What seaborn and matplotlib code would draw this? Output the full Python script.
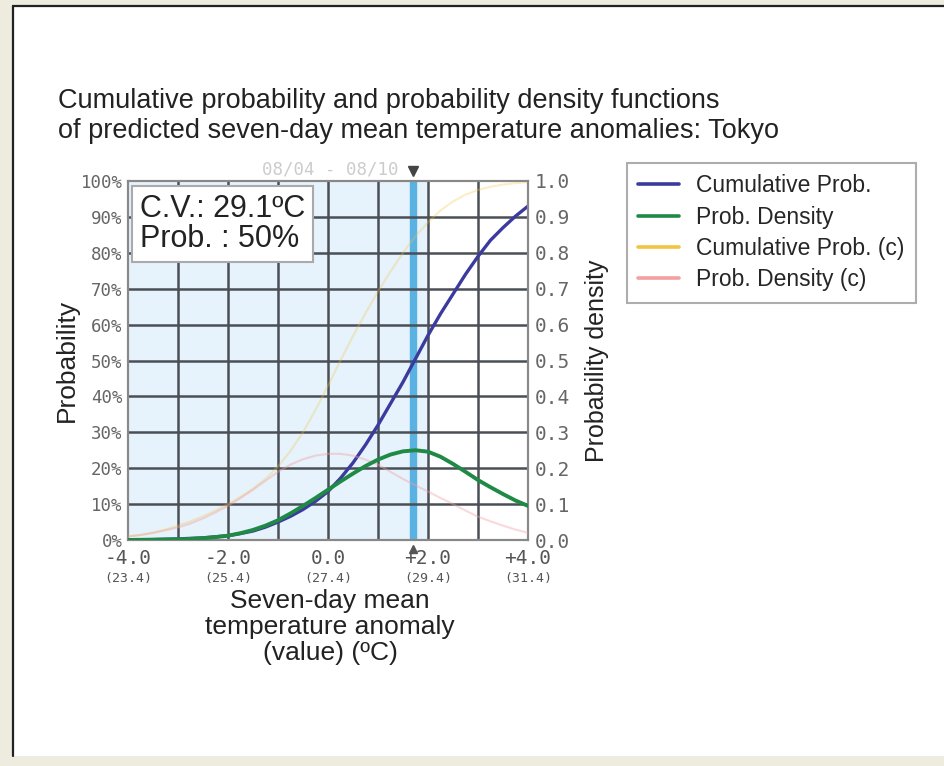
import numpy as np
import pandas as pd
import matplotlib
matplotlib.use("Agg")
import matplotlib.pyplot as plt
from matplotlib.patches import Rectangle
from matplotlib.lines import Line2D
import seaborn as sns

# ---- data ----
anomaly = [-4.0, -3.75, -3.5, -3.25, -3.0, -2.75, -2.5, -2.25, -2.0, -1.75, -1.5, -1.25, -1.0,
           -0.75, -0.5, -0.25, 0.0, 0.25, 0.5, 0.75, 1.0, 1.25, 1.5, 1.75, 2.0, 2.25, 2.5,
           2.75, 3.0, 3.25, 3.5, 3.75, 4.0]
cum_prob = [0.0, 0.05, 0.1, 0.2, 0.3, 0.45, 0.6, 0.9, 1.2, 1.8, 2.5, 3.6, 5.0,
            6.6, 8.5, 10.8, 13.5, 17.2, 21.5, 26.5, 32.0, 38.0, 44.0, 50.5, 57.0, 63.0, 68.5,
            74.0, 79.0, 83.5, 87.0, 90.2, 93.0]
prob_density = [0.0, 0.0005, 0.001, 0.0015, 0.002, 0.003, 0.005, 0.008, 0.012, 0.019, 0.028, 0.04, 0.055,
                0.074, 0.095, 0.117, 0.14, 0.163, 0.185, 0.206, 0.224, 0.238, 0.247, 0.25, 0.246, 0.232, 0.212,
                0.19, 0.167, 0.147, 0.128, 0.11, 0.095]
cum_prob_c = [1.0, 1.4, 2.0, 2.9, 4.0, 5.2, 6.6, 8.2, 10.0, 12.0, 14.3, 17.0, 20.5,
              24.8, 30.0, 36.2, 43.0, 50.0, 56.8, 63.2, 69.2, 74.8, 80.0, 84.6, 88.5, 91.8, 94.3,
              96.2, 97.5, 98.4, 99.0, 99.4, 99.7]
prob_density_c = [0.01, 0.014, 0.02, 0.027, 0.035, 0.046, 0.06, 0.077, 0.095, 0.117, 0.14, 0.165, 0.19,
                  0.21, 0.225, 0.235, 0.24, 0.24, 0.235, 0.224, 0.21, 0.19, 0.17, 0.152, 0.135, 0.117, 0.10,
                  0.082, 0.065, 0.052, 0.04, 0.029, 0.02]

x_ticks = [-4.0, -2.0, 0.0, 2.0, 4.0]
x_tick_labels = ["-4.0\n(23.4)", "-2.0\n(25.4)", "0.0\n(27.4)", "+2.0\n(29.4)", "+4.0\n(31.4)"]
left_ticks = list(range(0, 101, 10))
left_tick_labels = [f"{v}%" for v in left_ticks]
right_ticks = [round(v * 0.1, 1) for v in range(11)]
right_tick_labels = [f"{v:.1f}" for v in right_ticks]
cv_anomaly = 1.7
shade_end = 2.0
series_names = ["Cumulative Prob.", "Prob. Density", "Cumulative Prob. (c)", "Prob. Density (c)"]
series_colors = ["#3b3b9e", "#1f8a45", "#f2c443", "#f2a0a0"]

df = pd.DataFrame({"anomaly": anomaly, "cum": cum_prob, "dens": prob_density,
                   "cum_c": cum_prob_c, "dens_c": prob_density_c})

sns.set_theme(style="white")
plt.rcParams['font.family'] = ['Liberation Sans', 'DejaVu Sans']

W, H = 945, 766
fig = plt.figure(figsize=(W / 100, H / 100), dpi=100)
fig.patch.set_facecolor("#eeebdf")

def fx(px):
    return px / W

def fy(py):
    return 1 - py / H

# white panel with dark left/top border
fig.add_artist(Rectangle((fx(13), fy(756)), 1.2, fy(6) - fy(756), transform=fig.transFigure,
                         facecolor="white", edgecolor="none", zorder=-10))
fig.add_artist(Line2D([fx(13), fx(13)], [fy(6), fy(756)], color="#222222", lw=1.6,
                      transform=fig.transFigure, zorder=-9))
fig.add_artist(Line2D([fx(13), 1.0], [fy(6), fy(6)], color="#222222", lw=1.6,
                      transform=fig.transFigure, zorder=-9))

left, right, top, bottom = 128, 528, 181, 540
ax = fig.add_axes([fx(left), fy(bottom), fx(right) - fx(left), fy(top) - fy(bottom)])
ax.set_facecolor("white")
ax.set_xlim(-4, 4)
ax.set_ylim(0, 100)

# shaded forecast region and C.V. band
ax.axvspan(-4, shade_end, color="#e6f2fc", zorder=0)
ax.axvspan(cv_anomaly - 0.06, cv_anomaly + 0.06, color="#5ab2e2", zorder=1)

# grid
for gx in np.arange(-3, 4, 1.0):
    ax.axvline(gx, color="#4a4f55", lw=1.8, zorder=2)
for gy in range(10, 100, 10):
    ax.axhline(gy, color="#4a4f55", lw=1.8, zorder=2)

ax2 = ax.twinx()
ax2.set_ylim(0, 1.0)

sns.lineplot(data=df, x="anomaly", y="cum_c", ax=ax, color=series_colors[2], lw=1.5, alpha=0.3, zorder=3)
sns.lineplot(data=df, x="anomaly", y="dens_c", ax=ax2, color=series_colors[3], lw=1.5, alpha=0.4, zorder=3)
sns.lineplot(data=df, x="anomaly", y="cum", ax=ax, color=series_colors[0], lw=2.4, zorder=4)
sns.lineplot(data=df, x="anomaly", y="dens", ax=ax2, color=series_colors[1], lw=2.8, zorder=4)
ax2.patch.set_visible(False)

for a in (ax, ax2):
    for s in a.spines.values():
        s.set_color("#888888")
        s.set_linewidth(1.5)

mono = "DejaVu Sans Mono"
ax.set_xticks(x_ticks)
ax.set_xticklabels([])
for xv, lab in zip(x_ticks, x_tick_labels):
    top_l, bot_l = lab.split("\n")
    ax.text(xv, -2.6, top_l, ha="center", va="top", fontsize=14, family=mono, color="#555555")
    ax.text(xv, -8.8, bot_l, ha="center", va="top", fontsize=9.5, family=mono, color="#555555")
ax.set_yticks(left_ticks)
ax.set_yticklabels(left_tick_labels, fontsize=12.5, family=mono, color="#666666")
ax2.set_yticks(right_ticks)
ax2.set_yticklabels(right_tick_labels, fontsize=14, family=mono, color="#666666")
ax.tick_params(axis="y", length=0, pad=4)
ax2.tick_params(axis="y", length=0, pad=5)
ax.tick_params(axis="x", length=0)

ax.set_xlabel("")
ax.set_ylabel("Probability", fontsize=19, color="#222222", labelpad=1)
ax2.set_ylabel("Probability density", fontsize=18, color="#222222", labelpad=11)

fig.text(fx(330), fy(589), "Seven-day mean\ntemperature anomaly\n(value) (ºC)", ha="center", va="top",
         fontsize=19, color="#222222", linespacing=1.1)

fig.text(fx(58), fy(116), "Cumulative probability and probability density functions\n"
         "of predicted seven-day mean temperature anomalies: Tokyo", ha="left", va="center",
         fontsize=19.5, color="#222222", linespacing=1.15)

# C.V. box
ax.text(-3.76, 96.4, "C.V.: 29.1ºC\nProb. : 50%", ha="left", va="top", fontsize=22, color="#222222",
        linespacing=1.02, zorder=6,
        bbox=dict(boxstyle="square,pad=0.25", facecolor="white", edgecolor="#aaaaaa", lw=1.5))

# date label and markers
fig.text(fx(330), fy(170), "08/04 - 08/10", ha="center", va="center", fontsize=12.5, family=mono, color="#cccccc")
ax.plot([cv_anomaly], [102.8], marker="v", color="#444444", markersize=7, clip_on=False, zorder=7)
ax.plot([cv_anomaly], [-2.4], marker="^", color="#555555", markersize=6, clip_on=False, zorder=7)

# legend
handles = [Line2D([0], [0], color=c, lw=2.6) for c in series_colors]
leg = fig.legend(handles, series_names, loc="upper left", bbox_to_anchor=(fx(627), fy(163)),
                 frameon=True, fontsize=16.5, handlelength=1.75, handletextpad=0.75,
                 labelspacing=0.36, borderpad=0.5, borderaxespad=0.0, fancybox=False)
leg.get_frame().set_edgecolor("#999999")
leg.get_frame().set_linewidth(1.5)

fig.savefig("out.png", dpi=100, facecolor=fig.get_facecolor())
